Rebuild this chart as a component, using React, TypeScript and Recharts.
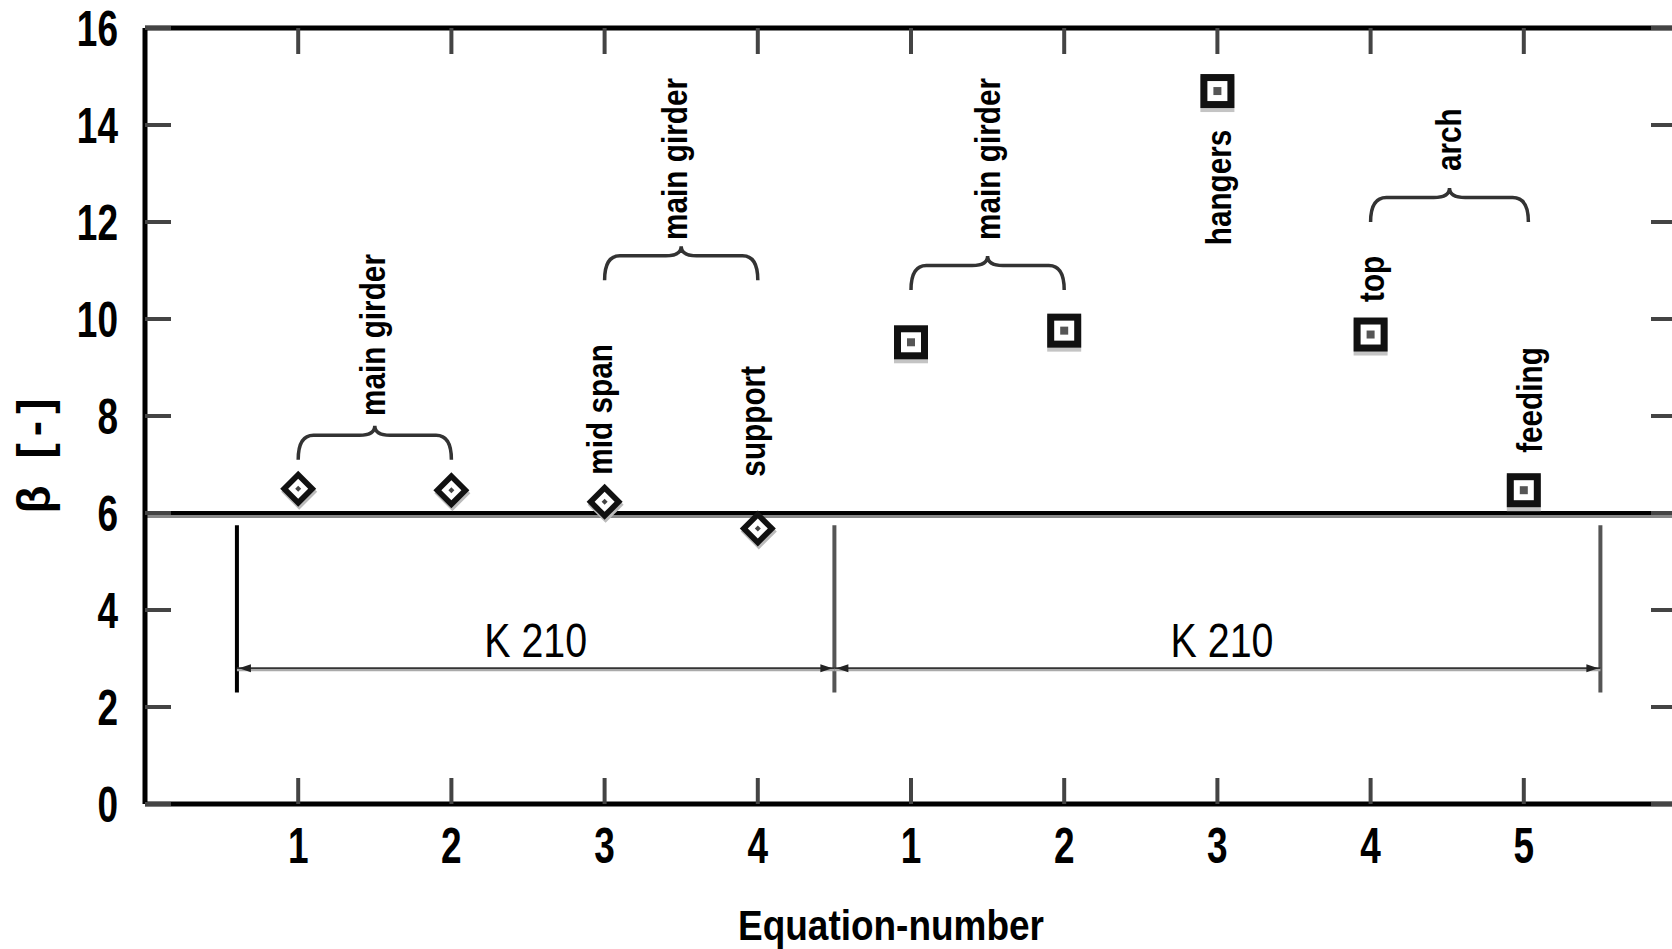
import React from "react";
import {
  ComposedChart,
  ReferenceArea,
  ReferenceDot,
  ReferenceLine,
  Scatter,
  XAxis,
  YAxis,
} from "recharts";

const FONT = "'Liberation Sans', Arial, Helvetica, sans-serif";

// axes
const eqTicks = [1, 2, 3, 4, 5, 6, 7, 8, 9];
const eqLabels = ["1", "2", "3", "4", "1", "2", "3", "4", "5"];
const betaTicks = [0, 2, 4, 6, 8, 10, 12, 14, 16];

// K 210, first group (diamonds) and second group (squares)
const diamondEq = [1, 2, 3, 4];
const diamondBeta = [6.5, 6.47, 6.23, 5.68];
const squareEq = [5, 6, 7, 8, 9];
const squareBeta = [9.52, 9.76, 14.7, 9.68, 6.47];

const targetBeta = 6;

// group markers below the target line
const dividerEq = [0.6, 4.5, 9.5];
const dividerColor = ["#000", "#555", "#555"];
const dividerFrom = 5.75;
const dividerTo = 2.3;
const spanFrom = [0.6, 4.5];
const spanTo = [4.5, 9.5];
const spanBeta = 2.8;
const spanLabel = ["K 210", "K 210"];
const spanLabelEq = [2.55, 7.03];
const spanLabelBeta = 3.03;

// curly braces over pairs of equations
const braceFrom = [1, 3, 5, 8];
const braceTo = [2, 4, 6, 9.03];
const braceBottom = [7.1, 10.8, 10.6, 12.0];
const braceTop = [7.8, 11.5, 11.3, 12.7];

// vertical notes
const noteText = ["main girder", "main girder", "main girder", "mid span", "support", "hangers", "top", "arch", "feeding"];
const noteEq = [1.5, 3.47, 5.51, 2.98, 3.98, 7.02, 8.02, 8.52, 9.05];
const noteBeta = [8.0, 11.63, 11.63, 6.79, 6.75, 11.52, 10.35, 13.05, 7.24];

const diamonds = diamondEq.map((eq, i) => ({ eq, beta: diamondBeta[i] }));
const squares = squareEq.map((eq, i) => ({ eq, beta: squareBeta[i] }));

function DiamondMark(props: any) {
  const { cx, cy } = props;
  const d = (r: number, dx = 0, dy = 0) =>
    `M${cx + dx},${cy + dy - r} L${cx + dx + r},${cy + dy} L${cx + dx},${cy + dy + r} L${cx + dx - r},${cy + dy} Z`;
  return (
    <g>
      <path d={d(18, 1, 3)} fill="#bbb" />
      <path d={d(18)} fill="#111" />
      <path d={d(10)} fill="#fff" />
      <path d={d(3)} fill="#444" />
    </g>
  );
}

function SquareMark(props: any) {
  const { cx, cy } = props;
  return (
    <g>
      <rect x={cx - 17} y={cy - 15} width={34} height={36} fill="#c4c4c4" />
      <rect x={cx - 17} y={cy - 17} width={34} height={34} fill="#111" />
      <rect x={cx - 10} y={cy - 10} width={20} height={20} fill="#fff" />
      <rect x={cx - 4} y={cy - 4} width={8} height={8} fill="#555" />
    </g>
  );
}

function EqTick(props: any) {
  const { x, y, payload } = props;
  const label = eqLabels[eqTicks.indexOf(payload.value)];
  return (
    <text
      transform={`translate(${x},${y + 18}) scale(0.74,1)`}
      textAnchor="middle"
      fontSize={50}
      fontWeight="bold"
      fontFamily={FONT}
      fill="#000"
    >
      {label}
    </text>
  );
}

function BetaTick(props: any) {
  const { x, y, payload } = props;
  return (
    <text
      transform={`translate(${x},${y + 18}) scale(0.74,1)`}
      textAnchor="end"
      fontSize={50}
      fontWeight="bold"
      fontFamily={FONT}
      fill="#000"
    >
      {payload.value}
    </text>
  );
}

const noTick = () => <g />;
const noMark = () => <g />;

function YTitle(props: any) {
  const vb = props.viewBox;
  const cx = vb.x + 36;
  const cy = vb.y + vb.height / 2 + 40;
  return (
    <text
      transform={`translate(${cx},${cy}) rotate(-90)`}
      textAnchor="middle"
      dy="0.3em"
      fontSize={46}
      fontWeight="bold"
      fontFamily={FONT}
      textLength={115}
      lengthAdjust="spacing"
      fill="#000"
    >
      β [-]
    </text>
  );
}

function XTitle(props: any) {
  const vb = props.viewBox;
  return (
    <text
      transform={`translate(${vb.x + vb.width / 2 - 20},${vb.y + 136}) scale(0.88,1)`}
      textAnchor="middle"
      fontSize={42}
      fontWeight="bold"
      fontFamily={FONT}
      fill="#000"
    >
      Equation-number
    </text>
  );
}

function Brace(props: any) {
  const { x, y, width, height } = props;
  const x1 = x;
  const x2 = x + width;
  const xm = x + width / 2;
  const yB = y + height;
  const yT = y;
  const yA = yB - height * 0.72;
  const r = width * 0.1;
  const d = `M${x1},${yB} Q${x1},${yA} ${x1 + r},${yA} L${xm - r},${yA} Q${xm},${yA} ${xm},${yT} Q${xm},${yA} ${xm + r},${yA} L${x2 - r},${yA} Q${x2},${yA} ${x2},${yB}`;
  return <path d={d} fill="none" stroke="#333" strokeWidth={3.5} />;
}

function TargetLine(props: any) {
  const { x1, y1, x2, y2 } = props;
  return (
    <g>
      <line x1={x1} y1={y1 + 3} x2={x2} y2={y2 + 3} stroke="#888" strokeWidth={4} />
      <line x1={x1} y1={y1} x2={x2} y2={y2} stroke="#000" strokeWidth={4} />
    </g>
  );
}

function SpanArrow(props: any) {
  const { x1, y1, x2, y2 } = props;
  const a = 14;
  return (
    <g>
      <line x1={x1} y1={y1 + 1.5} x2={x2} y2={y2 + 1.5} stroke="#aaa" strokeWidth={3} />
      <line x1={x1} y1={y1} x2={x2} y2={y2} stroke="#333" strokeWidth={1.8} />
      <path d={`M${x1 + 2},${y1} L${x1 + a},${y1 - 4} L${x1 + a},${y1 + 4} Z`} fill="#222" />
      <path d={`M${x2 - 2},${y2} L${x2 - a},${y2 - 4} L${x2 - a},${y2 + 4} Z`} fill="#222" />
    </g>
  );
}

const noteShape = (text: string) => (props: any) => {
  const { cx, cy } = props;
  return (
    <text
      transform={`translate(${cx},${cy}) rotate(-90) scale(0.85,1)`}
      dy="0.3em"
      textAnchor="start"
      fontSize={35}
      fontWeight="bold"
      fontFamily={FONT}
      fill="#000"
    >
      {text}
    </text>
  );
};

const spanLabelShape = (text: string) => (props: any) => {
  const { cx, cy } = props;
  return (
    <text
      transform={`translate(${cx},${cy}) scale(0.82,1)`}
      textAnchor="middle"
      fontSize={48}
      fontFamily={FONT}
      fill="#000"
    >
      {text}
    </text>
  );
};

export default function App() {
  return (
    <div
      style={{
        position: "fixed",
        left: 0,
        top: 0,
        width: 1672,
        height: 949,
        overflow: "hidden",
        background: "#fff",
      }}
    >
      <ComposedChart width={1678} height={949} margin={{ top: 27, right: 0, left: 0, bottom: 0 }}>
        <XAxis
          dataKey="eq"
          type="number"
          domain={[0, 10]}
          ticks={eqTicks}
          height={145}
          axisLine={{ stroke: "#000", strokeWidth: 5 }}
          tickLine={{ stroke: "#444", strokeWidth: 4 }}
          tickSize={-26}
          tickMargin={67}
          tick={<EqTick />}
          label={{ content: <XTitle /> }}
        />
        <XAxis
          xAxisId="top"
          orientation="top"
          dataKey="eq"
          type="number"
          domain={[0, 10]}
          ticks={eqTicks}
          height={1}
          axisLine={{ stroke: "#000", strokeWidth: 5 }}
          tickLine={{ stroke: "#444", strokeWidth: 4 }}
          tickSize={-26}
          tick={noTick}
        />
        <YAxis
          type="number"
          domain={[0, 16]}
          ticks={betaTicks}
          width={145}
          axisLine={{ stroke: "#000", strokeWidth: 5 }}
          tickLine={{ stroke: "#444", strokeWidth: 4 }}
          tickSize={-26}
          tickMargin={53}
          tick={<BetaTick />}
          label={{ content: <YTitle /> }}
        />
        <YAxis
          yAxisId="r"
          orientation="right"
          type="number"
          domain={[0, 16]}
          ticks={betaTicks}
          width={1}
          axisLine={{ stroke: "#000", strokeWidth: 5 }}
          tickLine={{ stroke: "#444", strokeWidth: 4 }}
          tickSize={-26}
          tick={noTick}
        />

        <ReferenceLine y={targetBeta} shape={<TargetLine />} />

        {dividerEq.map((eq, i) => (
          <ReferenceLine
            key={`div${i}`}
            segment={[
              { x: eq, y: dividerFrom },
              { x: eq, y: dividerTo },
            ]}
            stroke={dividerColor[i]}
            strokeWidth={4}
          />
        ))}
        {spanFrom.map((from, i) => (
          <ReferenceLine
            key={`span${i}`}
            segment={[
              { x: from, y: spanBeta },
              { x: spanTo[i], y: spanBeta },
            ]}
            shape={<SpanArrow />}
          />
        ))}
        {spanLabel.map((t, i) => (
          <ReferenceDot key={`sl${i}`} x={spanLabelEq[i]} y={spanLabelBeta} r={1} shape={spanLabelShape(t)} />
        ))}

        {braceFrom.map((from, i) => (
          <ReferenceArea
            key={`br${i}`}
            x1={from}
            x2={braceTo[i]}
            y1={braceBottom[i]}
            y2={braceTop[i]}
            shape={<Brace />}
          />
        ))}
        {noteText.map((t, i) => (
          <ReferenceDot key={`n${i}`} x={noteEq[i]} y={noteBeta[i]} r={1} shape={noteShape(t)} />
        ))}

        <Scatter data={diamonds} dataKey="beta" shape={<DiamondMark />} isAnimationActive={false} />
        <Scatter data={squares} dataKey="beta" shape={<SquareMark />} isAnimationActive={false} />
        {/* invisible copy so the mirrored top/right axes get drawn */}
        <Scatter
          data={squares}
          dataKey="beta"
          xAxisId="top"
          yAxisId="r"
          shape={noMark}
          isAnimationActive={false}
        />
      </ComposedChart>
    </div>
  );
}
